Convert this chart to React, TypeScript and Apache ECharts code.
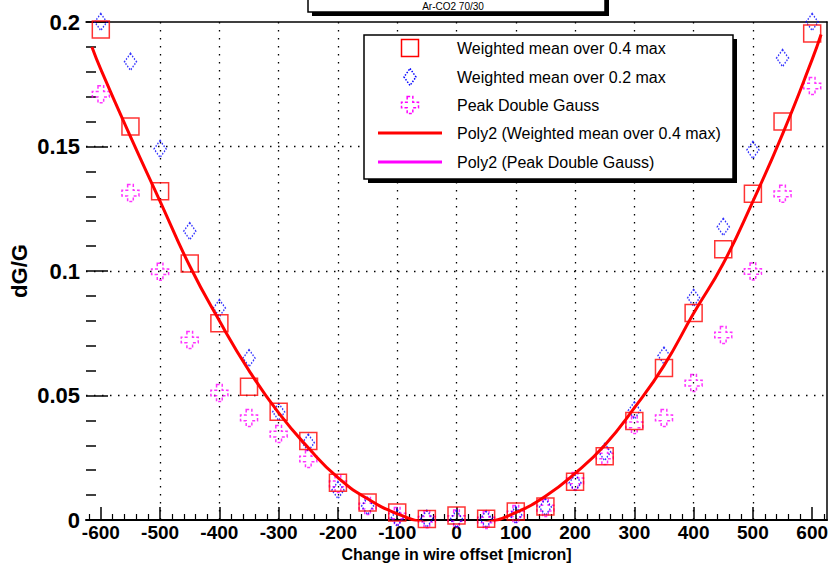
import React, { useEffect, useRef } from "react";
import * as echarts from "echarts";

// ---- data ----
const xValues = [-600, -550, -500, -450, -400, -350, -300, -250, -200, -150, -100, -50, 0, 50, 100, 150, 200, 250, 300, 350, 400, 450, 500, 550, 600];
const weightedMean04 = [0.197, 0.158, 0.132, 0.103, 0.079, 0.0535, 0.0435, 0.0317, 0.015, 0.007, 0.003, 0.0004, 0.0018, 0.0005, 0.0034, 0.0054, 0.0154, 0.0256, 0.0398, 0.061, 0.0831, 0.1087, 0.131, 0.16, 0.1954];
const weightedMean02 = [0.2, 0.184, 0.149, 0.116, 0.0851, 0.065, 0.0434, 0.031, 0.012, 0.0056, 0.0008, 0.0005, 0.0004, 0.0003, 0.002, 0.0052, 0.0149, 0.0273, 0.044, 0.066, 0.0892, 0.1177, 0.1486, 0.1855, 0.2];
const peakDoubleGauss = [0.171, 0.1313, 0.0997, 0.0723, 0.051, 0.041, 0.0345, 0.0245, 0.0145, 0.0056, 0.0016, 0.0003, 0.0006, 0.0, 0.0024, 0.0048, 0.0157, 0.0257, 0.0382, 0.041, 0.055, 0.0743, 0.0998, 0.131, 0.1743];

const fitX = [-615, -600, -550, -500, -450, -400, -350, -300, -250, -200, -150, -100, -50, 0, 50, 100, 150, 200, 250, 300, 350, 400, 450, 500, 550, 600, 615];
const fitWeightedMean04 = [0.19, 0.181, 0.154, 0.128, 0.102, 0.08, 0.06, 0.043, 0.029, 0.017, 0.0085, 0.0025, -0.0012, -0.0025, -0.0011, 0.003, 0.0095, 0.0187, 0.03, 0.045, 0.062, 0.083, 0.103, 0.128, 0.155, 0.185, 0.195];

const xTickLabels = [-600, -500, -400, -300, -200, -100, 0, 100, 200, 300, 400, 500, 600];
const legendNames = [
  "Weighted mean over 0.4 max",
  "Weighted mean over 0.2 max",
  "Peak Double Gauss",
  "Poly2 (Weighted mean over 0.4 max)",
  "Poly2 (Peak Double Gauss)",
];
const titleText = "Ar-CO2 70/30";

const RED = "#ff0000";
const BLUE = "#0000ff";
const MAGENTA = "#ff00ff";
const FONT = "Liberation Sans";
const CROSS_PATH = "path://M1 0H2V1H3V2H2V3H1V2H0V1H1Z";

function buildMinorTicks(): number[] {
  const out: number[] = [];
  for (let v = -620; v <= 620; v += 20) {
    if (v % 100 !== 0) out.push(v);
  }
  return out;
}

export default function App() {
  const ref = useRef<HTMLDivElement>(null);

  useEffect(() => {
    if (!ref.current) return;
    const chart = echarts.init(ref.current, undefined, { renderer: "svg" });
    const minorTicks = buildMinorTicks();
    const dotted = { color: "#000", type: [1.5, 6.5] as any, width: 1.3 };
    const labelStyle = { fontSize: 22, fontWeight: "bold" as const, fontFamily: FONT, color: "#000" };

    // legend geometry (decoration)
    const lgX = 364, lgY = 35, lgW = 369, lgH = 144;
    const symX = 410;
    const textX = 457;
    const rows = [48, 77, 105, 133, 162];
    const cs = 17 / 3;
    const cx0 = symX - 8.5, cy0 = rows[2] - 8.5;
    const crossPts = [
      [cx0 + cs, cy0], [cx0 + 2 * cs, cy0], [cx0 + 2 * cs, cy0 + cs], [cx0 + 3 * cs, cy0 + cs],
      [cx0 + 3 * cs, cy0 + 2 * cs], [cx0 + 2 * cs, cy0 + 2 * cs], [cx0 + 2 * cs, cy0 + 3 * cs], [cx0 + cs, cy0 + 3 * cs],
      [cx0 + cs, cy0 + 2 * cs], [cx0, cy0 + 2 * cs], [cx0, cy0 + cs], [cx0 + cs, cy0 + cs],
    ];

    const graphic: any[] = [
      // title box
      { type: "rect", shape: { x: 312, y: -16, width: 297, height: 32 }, style: { fill: "#000" }, z: 100 },
      { type: "rect", shape: { x: 308, y: -20, width: 297, height: 32 }, style: { fill: "#fff", stroke: "#000", lineWidth: 1.5 }, z: 101 },
      { type: "text", x: 453, y: 6, style: { text: titleText, fontSize: 10, fontFamily: FONT, fill: "#000", align: "center", verticalAlign: "middle" }, z: 102 },
      // legend box
      { type: "rect", shape: { x: lgX + 4, y: lgY + 4, width: lgW, height: lgH }, style: { fill: "#000" }, z: 100 },
      { type: "rect", shape: { x: lgX, y: lgY, width: lgW, height: lgH }, style: { fill: "#fff", stroke: "#000", lineWidth: 1.5 }, z: 101 },
      { type: "rect", shape: { x: symX - 8.5, y: rows[0] - 8.5, width: 17, height: 17 }, style: { fill: "none", stroke: RED, lineWidth: 1.5 }, z: 102 },
      { type: "polygon", shape: { points: [[symX, rows[1] - 8.5], [symX + 6, rows[1]], [symX, rows[1] + 8.5], [symX - 6, rows[1]]] }, style: { fill: "none", stroke: BLUE, lineWidth: 1.5, lineDash: [1.5, 1.5] }, z: 102 },
      { type: "polygon", shape: { points: crossPts }, style: { fill: "none", stroke: MAGENTA, lineWidth: 1.5, lineDash: [3, 2] }, z: 102 },
      { type: "line", shape: { x1: 378, y1: rows[3], x2: 442, y2: rows[3] }, style: { stroke: RED, lineWidth: 3 }, z: 102 },
      { type: "line", shape: { x1: 378, y1: rows[4], x2: 442, y2: rows[4] }, style: { stroke: MAGENTA, lineWidth: 3 }, z: 102 },
      ...legendNames.map((n, i) => ({
        type: "text", x: textX, y: rows[i],
        style: { text: n, fontSize: 16, fontFamily: FONT, fill: "#000", align: "left", verticalAlign: "middle" },
        z: 102,
      })),
    ];

    const toPairs = (xs: number[], ys: (number | null)[]) =>
      xs.map((x, i) => [x, ys[i]]).filter((p) => p[1] !== null);

    chart.setOption({
      animation: false,
      backgroundColor: "#fff",
      grid: { left: 86, right: 7, top: 22, bottom: 46, containLabel: false, outerBoundsMode: "none" },
      xAxis: [
        {
          type: "value", min: -625, max: 625, splitNumber: 12, position: "bottom",
          axisLine: { show: true, onZero: false, lineStyle: { color: "#000", width: 2 } },
          axisTick: { show: true, inside: true, length: 13, customValues: xTickLabels, lineStyle: { color: "#000", width: 1.5 } },
          axisLabel: { ...labelStyle, fontSize: 19, margin: 3, customValues: xTickLabels },
          splitLine: { show: true, showMinLine: false, showMaxLine: false, lineStyle: dotted },
          name: "Change in wire offset [micron]", nameLocation: "middle", nameGap: 26, nameMoveOverlap: false,
          nameTextStyle: { fontSize: 16, fontWeight: "bold", fontFamily: FONT, color: "#000" },
        },
        {
          type: "value", min: -625, max: 625, position: "bottom",
          axisLine: { show: false, onZero: false },
          axisTick: { show: true, inside: true, length: 6, customValues: minorTicks, lineStyle: { color: "#000", width: 1.2 } },
          axisLabel: { show: false },
          splitLine: { show: false },
        },
        {
          type: "value", min: -625, max: 625, position: "top",
          axisLine: { show: true, onZero: false, lineStyle: { color: "#000", width: 1.5 } },
          axisTick: { show: false }, axisLabel: { show: false }, splitLine: { show: false },
        },
      ],
      yAxis: [
        {
          type: "value", min: 0, max: 0.2, interval: 0.05, position: "left",
          axisLine: { show: false, onZero: false },
          axisTick: { show: true, inside: true, length: 22, lineStyle: { color: "#000", width: 1.5 } },
          minorTick: { show: true, splitNumber: 5, length: 10, lineStyle: { color: "#000", width: 1.5 } },
          axisLabel: { ...labelStyle, margin: 6 },
          splitLine: { show: true, showMinLine: false, showMaxLine: false, lineStyle: dotted },
          name: "dG/G", nameLocation: "middle", nameGap: 56, nameMoveOverlap: false,
          nameTextStyle: { fontSize: 22, fontWeight: "bold", fontFamily: FONT, color: "#000" },
        },
        {
          type: "value", min: 0, max: 0.2, position: "right",
          axisLine: { show: true, onZero: false, lineStyle: { color: "#000", width: 1.5 } },
          axisTick: { show: false }, axisLabel: { show: false }, splitLine: { show: false },
        },
      ],
      series: [
        {
          type: "scatter", name: legendNames[2], xAxisIndex: 0, yAxisIndex: 0,
          data: toPairs(xValues, peakDoubleGauss), symbol: CROSS_PATH, symbolSize: 17, clip: false, silent: true,
          itemStyle: { color: "transparent", borderColor: MAGENTA, borderWidth: 1.5, borderType: [3, 2] },
        },
        {
          type: "scatter", name: legendNames[1], xAxisIndex: 0, yAxisIndex: 0,
          data: toPairs(xValues, weightedMean02), symbol: "diamond", symbolSize: [12, 17], clip: false, silent: true,
          itemStyle: { color: "transparent", borderColor: BLUE, borderWidth: 1.5, borderType: [1.5, 1.5] },
        },
        {
          type: "scatter", name: legendNames[0], xAxisIndex: 0, yAxisIndex: 0,
          data: toPairs(xValues, weightedMean04), symbol: "rect", symbolSize: 17, clip: false, silent: true,
          itemStyle: { color: "transparent", borderColor: RED, borderWidth: 1.5 },
        },
        {
          type: "line", name: legendNames[3], xAxisIndex: 0, yAxisIndex: 0,
          data: toPairs(fitX, fitWeightedMean04), smooth: true, symbol: "none", showSymbol: false, silent: true,
          lineStyle: { color: RED, width: 3 }, z: 5,
        },
      ],
      graphic,
    });

    return () => chart.dispose();
  }, []);

  return (
    <div
      ref={ref}
      style={{ position: "fixed", left: 0, top: 0, width: 834, height: 566, background: "#fff" }}
    />
  );
}
